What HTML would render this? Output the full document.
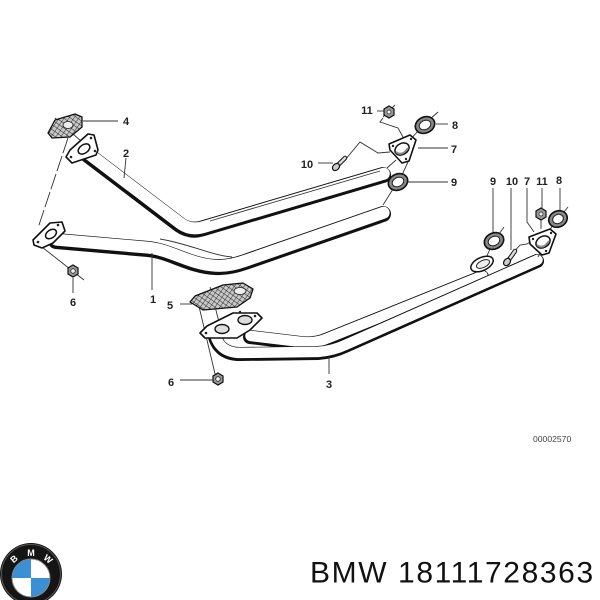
<!DOCTYPE html>
<html><head><meta charset="utf-8"><style>
html,body{margin:0;padding:0;background:#fff;}
svg{display:block;}
.pb{fill:none;stroke:#111;stroke-linecap:round;stroke-linejoin:round;}
.pw{fill:none;stroke:#fff;stroke-linecap:round;stroke-linejoin:round;}
.ln{fill:none;stroke:#333;stroke-width:0.9;}
.lb{font-family:"Liberation Sans",sans-serif;font-size:11px;font-weight:bold;fill:#222;text-anchor:middle;}
.fl{fill:#fff;stroke:#111;stroke-width:1.6;stroke-linejoin:round;}
</style></head><body>
<svg width="600" height="600" viewBox="0 0 600 600" xmlns="http://www.w3.org/2000/svg">
<defs>
<pattern id="hatch" width="4" height="4" patternUnits="userSpaceOnUse" patternTransform="rotate(35)">
<rect width="4" height="4" fill="#c8c8c8"/>
<path d="M0,0 L0,4 M0,0 L4,0" stroke="#222" stroke-width="0.9"/>
</pattern>
</defs>

<!-- Pipe 2 -->
<path class="pb" stroke-width="16" d="M 88,155 L 180,225 Q 190,232 202,228.5 L 383,175"/>
<path class="pw" stroke-width="12" transform="translate(0.8,-1.3)" d="M 88,155 L 180,225 Q 190,232 202,228.5 L 383,175"/>
<!-- Pipe 1 -->
<path class="pb" stroke-width="16" d="M 56,241 L 148,249 C 170,251 190,266 215,267 Q 228,268 245,262 L 383,214"/>
<path class="pw" stroke-width="12" transform="translate(0.6,-1.3)" d="M 56,241 L 148,249 C 170,251 190,266 215,267 Q 228,268 245,262 L 383,214"/>
<!-- thin highlight lines on pipes -->
<path class="ln" stroke-width="0.6" d="M 210,221 L 380,171"/>
<path class="ln" stroke-width="0.6" d="M 160,239 C 190,244 210,255 232,257"/>

<!-- Pipe 3 tube B -->
<path class="pb" stroke-width="14" d="M 250,337 L 300,343 Q 315,345 328,339 L 482,277"/>
<path class="pw" stroke-width="10.5" transform="translate(0.5,-1.1)" d="M 250,337 L 300,343 Q 315,345 328,339 L 482,277"/>
<!-- Pipe 3 tube A -->
<path class="pb" stroke-width="14" d="M 214,333 Q 218,354 240,354 L 318,353 Q 332,352 345,346 L 537,261"/>
<path class="pw" stroke-width="10.5" transform="translate(0.5,-1.1)" d="M 214,333 Q 218,354 240,354 L 318,353 Q 332,352 345,346 L 537,261"/>

<!-- Left thin lines -->
<path class="ln" stroke-dasharray="16 3" d="M 68,138 L 38,228"/>
<path class="ln" d="M 55,118 L 90,149"/>
<path class="ln" d="M 33,240 L 84,280"/>
<path class="ln" d="M 197,298 L 216,378"/>
<path class="ln" d="M 210,287 L 219,322"/>

<!-- Gasket 4 -->
<polygon points="48,133 55,120 75,114 82,117 82,127 70,137 52,138" fill="url(#hatch)" stroke="#111" stroke-width="1.3" stroke-linejoin="round"/>
<ellipse cx="68" cy="125" rx="5" ry="3.5" fill="#eee" stroke="#222" stroke-width="0.8"/>
<!-- Flange 2 -->
<polygon class="fl" points="66,157 70,150 88,134 94,135 98,150 96,155 72,163"/>
<ellipse cx="84" cy="149" rx="6.5" ry="4.2" transform="rotate(-35 84 149)" fill="#fff" stroke="#111" stroke-width="1.5"/>
<circle cx="71" cy="157" r="1.3" fill="#222"/><circle cx="91" cy="138" r="1.3" fill="#222"/><circle cx="95" cy="151" r="1.3" fill="#222"/>
<!-- Flange 1 -->
<polygon class="fl" points="33,240 50,223 62,222 65,231 53,243 42,248 34,245"/>
<ellipse cx="51" cy="234" rx="6" ry="4" transform="rotate(-35 51 234)" fill="#fff" stroke="#111" stroke-width="1.5"/>
<circle cx="38" cy="242" r="1.3" fill="#222"/><circle cx="58" cy="225" r="1.3" fill="#222"/>
<!-- Nut 6 left -->
<polygon points="73,265 78,268 78,274 73,277 68,274 68,268" fill="#999" stroke="#111" stroke-width="1.2"/>
<circle cx="73" cy="271" r="2.3" fill="#eee" stroke="#222" stroke-width="0.8"/>

<!-- Gasket 5 -->
<polygon points="190,302 195,296 223,285 243,283 253,289 250,298 237,307 203,310" fill="url(#hatch)" stroke="#111" stroke-width="1.3" stroke-linejoin="round"/>
<ellipse cx="240" cy="291" rx="6" ry="3.5" fill="#eee" stroke="#222" stroke-width="0.8"/>
<!-- Flange plate 3 -->
<polygon class="fl" points="200,333 207,326 233,313 257,313 262,318 250,330 237,338 205,338"/>
<ellipse cx="222" cy="329" rx="7" ry="4.5" fill="#ddd" stroke="#111" stroke-width="1.4"/>
<ellipse cx="245" cy="320" rx="7" ry="4.5" fill="#ddd" stroke="#111" stroke-width="1.4"/>
<circle cx="206" cy="333" r="1.3" fill="#222"/><circle cx="255" cy="316" r="1.3" fill="#222"/><circle cx="240" cy="312" r="1.2" fill="#222"/>
<!-- Nut 6 bottom -->
<polygon points="218,373 223,376 223,382 218,385 213,382 213,376" fill="#999" stroke="#111" stroke-width="1.2"/>
<circle cx="218" cy="379" r="2.3" fill="#eee" stroke="#222" stroke-width="0.8"/>

<!-- Upper right group lines -->
<path class="ln" d="M 438,112 L 428,121"/>
<path class="ln" d="M 418,131 L 410,140"/>
<path class="ln" d="M 396,160 L 387,168"/>
<path class="ln" d="M 408,162 L 402,175"/>
<path class="ln" d="M 393,189 L 383,205"/>
<path class="ln" d="M 395,105 L 383,117"/>
<path class="ln" d="M 383,118 L 380,122 L 398,128 L 403,137"/>
<path class="ln" d="M 345,160 L 360,142 L 378,153 L 390,152"/>
<!-- Nut 11 upper -->
<polygon points="389,106 394,109 394,115 389,118 384,115 384,109" fill="#999" stroke="#111" stroke-width="1.2"/>
<circle cx="389" cy="112" r="2" fill="#eee" stroke="#222" stroke-width="0.7"/>
<!-- Ring 8 upper -->
<ellipse cx="425" cy="125" rx="10" ry="8" transform="rotate(-25 425 125)" fill="#888" stroke="#111" stroke-width="1.6"/>
<ellipse cx="425" cy="125" rx="6" ry="4.5" transform="rotate(-25 425 125)" fill="#fff" stroke="#222" stroke-width="1"/>
<!-- Flange 7 upper -->
<polygon class="fl" points="389,144 410,135 416,140 409,161 402,163 390,150"/>
<ellipse cx="402" cy="149" rx="7.5" ry="5.5" transform="rotate(-30 402 149)" fill="#fff" stroke="#111" stroke-width="1.5"/>
<path d="M 396,152 Q 402,157 408,148" fill="none" stroke="#888" stroke-width="2"/>
<circle cx="393" cy="146" r="1.2" fill="#222"/><circle cx="411" cy="139" r="1.2" fill="#222"/><circle cx="406" cy="159" r="1.2" fill="#222"/>
<!-- Bolt 10 upper -->
<path d="M 337,166 L 345,158" stroke="#111" stroke-width="4.5" stroke-linecap="round"/>
<path d="M 337,166 L 345,158" stroke="#ddd" stroke-width="2.5" stroke-linecap="round"/>
<ellipse cx="336" cy="167" rx="4" ry="3" transform="rotate(-45 336 167)" fill="#ccc" stroke="#111" stroke-width="1.2"/>
<!-- Ring 9 upper -->
<ellipse cx="398" cy="182" rx="10" ry="8" transform="rotate(-25 398 182)" fill="#888" stroke="#111" stroke-width="1.6"/>
<ellipse cx="398" cy="182" rx="6" ry="4.5" transform="rotate(-25 398 182)" fill="#fff" stroke="#222" stroke-width="1"/>

<!-- Right group lines -->
<path class="ln" d="M 504,227 L 499,234"/>
<path class="ln" d="M 490,249 L 486,258"/>
<path class="ln" d="M 513,253 L 520,245 L 527,244 L 533,240"/>
<path class="ln" d="M 541,217 L 541,229"/>
<path class="ln" d="M 568,207 L 563,213"/>
<path class="ln" d="M 552,226 L 549,232"/>
<path class="ln" d="M 540,253 L 538,257"/>
<!-- Tube B end flange -->
<ellipse cx="482" cy="264" rx="12" ry="6.5" transform="rotate(-25 482 264)" fill="#fff" stroke="#111" stroke-width="1.5"/>
<ellipse cx="483" cy="264" rx="7" ry="3.5" transform="rotate(-25 483 264)" fill="#eee" stroke="#222" stroke-width="1"/>
<!-- Ring 9 right -->
<ellipse cx="494" cy="241" rx="10" ry="8" transform="rotate(-25 494 241)" fill="#888" stroke="#111" stroke-width="1.6"/>
<ellipse cx="494" cy="241" rx="6" ry="4.5" transform="rotate(-25 494 241)" fill="#fff" stroke="#222" stroke-width="1"/>
<!-- Bolt 10 right -->
<path d="M 508,261 L 515,251" stroke="#111" stroke-width="4.5" stroke-linecap="round"/>
<path d="M 508,261 L 515,251" stroke="#ddd" stroke-width="2.5" stroke-linecap="round"/>
<ellipse cx="507" cy="262" rx="4" ry="3" transform="rotate(-50 507 262)" fill="#ccc" stroke="#111" stroke-width="1.2"/>
<!-- Flange 7 right -->
<polygon class="fl" points="529,237 550,229 556,234 549,253 542,255 530,244"/>
<ellipse cx="543" cy="242" rx="7.5" ry="5.5" transform="rotate(-30 543 242)" fill="#fff" stroke="#111" stroke-width="1.5"/>
<path d="M 537,245 Q 543,250 549,241" fill="none" stroke="#888" stroke-width="2"/>
<circle cx="533" cy="239" r="1.2" fill="#222"/><circle cx="551" cy="233" r="1.2" fill="#222"/><circle cx="546" cy="251" r="1.2" fill="#222"/>
<!-- Nut 11 right -->
<polygon points="541,208 546,211 546,217 541,220 536,217 536,211" fill="#999" stroke="#111" stroke-width="1.2"/>
<circle cx="541" cy="214" r="2" fill="#eee" stroke="#222" stroke-width="0.7"/>
<!-- Ring 8 right -->
<ellipse cx="558" cy="219" rx="9.5" ry="8" transform="rotate(-25 558 219)" fill="#888" stroke="#111" stroke-width="1.6"/>
<ellipse cx="558" cy="219" rx="5.5" ry="4.5" transform="rotate(-25 558 219)" fill="#fff" stroke="#222" stroke-width="1"/>

<!-- Leader lines -->
<g stroke="#333" stroke-width="0.9" fill="none">
<path d="M 83,121 L 118,121"/>
<path d="M 126,158 L 124,178"/>
<path d="M 152,290 L 152,253"/>
<path d="M 73,293 L 73,278"/>
<path d="M 180,304 L 192,304"/>
<path d="M 180,380 L 213,380"/>
<path d="M 329,374 L 329,357"/>
<path d="M 377,111 L 384,111"/>
<path d="M 436,124 L 448,124"/>
<path d="M 418,148 L 448,148"/>
<path d="M 318,163 L 333,163"/>
<path d="M 408,182 L 448,182"/>
<path d="M 493,188 L 493,232"/>
<path d="M 511,188 L 511,250"/>
<path d="M 527,188 L 527,222 L 534,232"/>
<path d="M 542,188 L 542,208"/>
<path d="M 560,188 L 560,210"/>
</g>

<!-- Labels -->
<text class="lb" x="126" y="125">4</text>
<text class="lb" x="126" y="157">2</text>
<text class="lb" x="153" y="303">1</text>
<text class="lb" x="73" y="306">6</text>
<text class="lb" x="170" y="309">5</text>
<text class="lb" x="171" y="386">6</text>
<text class="lb" x="329" y="388">3</text>
<text class="lb" x="367" y="114">11</text>
<text class="lb" x="455" y="129">8</text>
<text class="lb" x="454" y="153">7</text>
<text class="lb" x="307" y="168">10</text>
<text class="lb" x="454" y="186">9</text>
<text class="lb" x="493" y="185">9</text>
<text class="lb" x="512" y="185">10</text>
<text class="lb" x="527" y="185">7</text>
<text class="lb" x="542" y="185">11</text>
<text class="lb" x="559" y="184">8</text>
<text x="533" y="442" font-family="Liberation Sans, sans-serif" font-size="8.6" fill="#444">00002570</text>

<!-- BMW logo -->
<circle cx="31" cy="574" r="31" fill="#151515"/>
<circle cx="31" cy="574" r="29.5" fill="none" stroke="#555" stroke-width="1"/>
<g transform="translate(31 578)">
<path d="M0,0 L-19,0 A19,19 0 0 1 0,-19 Z" fill="#3b8fd4"/>
<path d="M0,0 L0,-19 A19,19 0 0 1 19,0 Z" fill="#fff"/>
<path d="M0,0 L19,0 A19,19 0 0 1 0,19 Z" fill="#3b8fd4"/>
<path d="M0,0 L0,19 A19,19 0 0 1 -19,0 Z" fill="#fff"/>
<circle r="19" fill="none" stroke="#888" stroke-width="1"/>
</g>
<text x="14" y="562" font-family="Liberation Sans, sans-serif" font-size="9" font-weight="bold" fill="#fff" text-anchor="middle" transform="rotate(-40 14 559)">B</text>
<text x="31" y="556" font-family="Liberation Sans, sans-serif" font-size="9" font-weight="bold" fill="#fff" text-anchor="middle">M</text>
<text x="48" y="562" font-family="Liberation Sans, sans-serif" font-size="9" font-weight="bold" fill="#fff" text-anchor="middle" transform="rotate(40 48 559)">W</text>

<!-- Part number -->
<text x="310" y="582.5" font-family="Liberation Sans, sans-serif" font-size="30" letter-spacing="1.6" fill="#111">BMW 18111728363</text>
</svg>
</body></html>
